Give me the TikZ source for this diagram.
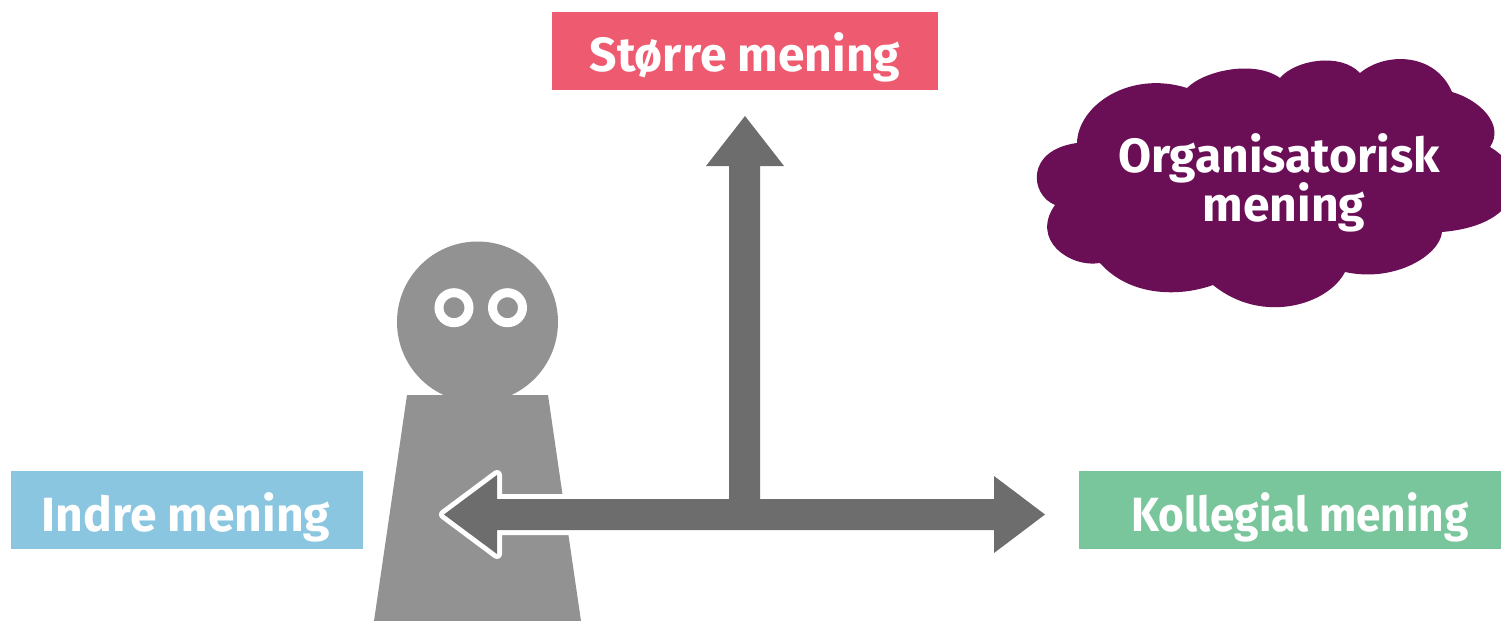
\documentclass[tikz,border=0pt]{standalone}
\usepackage{fontspec}
\setmainfont{Fira Sans}
\definecolor{redbox}{HTML}{EE5A6F}
\definecolor{bluebox}{HTML}{8BC6E0}
\definecolor{greenbox}{HTML}{7AC69C}
\definecolor{cloudc}{HTML}{6A0F56}
\definecolor{figc}{HTML}{929292}
\definecolor{arrowc}{HTML}{6D6D6D}
\tikzset{
  labelbox/.style={inner sep=0pt,outer sep=0pt,minimum height=39pt,anchor=north west},
  caption/.style={text=white,font=\fontsize{24}{28}\selectfont\bfseries,inner sep=0pt,anchor=base,align=center},
  figure part/.style={fill=figc,draw=none},
  eye/.style={draw=white,line width=4.5pt,fill=none}
}
\begin{document}
\begin{tikzpicture}[x=0.5pt,y=-0.5pt]
\useasboundingbox (0,0) rectangle (1501,621);
\clip (0,0) rectangle (1501,621);
% boxes
\node[labelbox,fill=redbox,minimum width=193pt] (top) at (552,12) {};
\node[labelbox,fill=bluebox,minimum width=176pt] (left) at (11,471) {};
\node[labelbox,fill=greenbox,minimum width=211pt] (right) at (1079,471) {};
% cloud
\fill[cloudc] (1077,143)
  .. controls (1078,105) and (1130,70) .. (1187,88)
  .. controls (1205,70) and (1255,60) .. (1280,78)
  .. controls (1295,60) and (1340,52) .. (1360,73)
  .. controls (1385,52) and (1435,52) .. (1452,92)
  .. controls (1480,100) and (1505,125) .. (1490,147)
  .. controls (1530,170) and (1525,225) .. (1442,232)
  .. controls (1440,255) and (1395,283) .. (1345,272)
  .. controls (1328,305) and (1262,325) .. (1213,285)
  .. controls (1180,297) and (1130,297) .. (1100,263)
  .. controls (1070,268) and (1030,240) .. (1055,205)
  .. controls (1030,195) and (1025,150) .. (1077,143) -- cycle;
% figure
\node[figure part,circle,minimum size=80.5pt,inner sep=0pt,outer sep=0pt] (head) at (477.5,322) {};
\fill[figure part] (407,395) -- (548,395) -- (581,621) -- (374,621) -- cycle;
\node[eye,circle,minimum size=15pt,inner sep=0pt,outer sep=0pt] (eyeL) at (454,307.7) {};
\node[eye,circle,minimum size=15pt,inner sep=0pt,outer sep=0pt] (eyeR) at (507.5,307.7) {};
% arrows
\fill[fill=arrowc,preaction={draw=white,line width=5pt,line join=round}]
  (444,514.5) -- (497,475) -- (497,499) -- (729,499) -- (729,166) -- (706,166)
  -- (745,116) -- (784,166) -- (760,166) -- (760,499) -- (994,499) -- (994,476)
  -- (1045,514.5) -- (994,553) -- (994,530) -- (497,530) -- (497,554) -- cycle;
% texts
\node[caption] (t1) at (745,71) {Større mening};
\node[caption] (t2) at (186,531) {Indre mening};
\node[caption,xscale=0.92] (t3) at (1300,531) {Kollegial mening};
\node[caption] (t4) at (1279,172) {Organisatorisk};
\node[caption] (t5) at (1284,221) {mening};
\end{tikzpicture}
\end{document}
